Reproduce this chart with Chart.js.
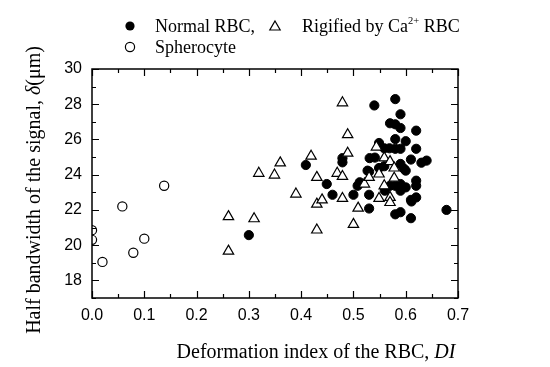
<!DOCTYPE html>
<html>
<head>
<meta charset="utf-8">
<script src="https://cdn.jsdelivr.net/npm/chart.js@4"></script>
<style>
  body { margin: 0; background: #fff; }
  #wrap { width: 550px; height: 367px; }
</style>
</head>
<body>
<div id="wrap"><canvas id="diChart" width="550" height="367"></canvas></div>
<script>
// Normal RBC (filled circles)
const normalX = [0.30, 0.409, 0.449, 0.46, 0.479, 0.479, 0.50, 0.508, 0.53, 0.53,
    0.54, 0.58, 0.59, 0.57, 0.58, 0.59, 0.62, 0.58, 0.60, 0.549,
    0.559, 0.569, 0.58, 0.59, 0.62, 0.531, 0.541, 0.61, 0.63, 0.64,
    0.59, 0.597, 0.53, 0.549, 0.559, 0.58, 0.59, 0.60, 0.62, 0.62,
    0.59, 0.56, 0.57, 0.61, 0.62, 0.58, 0.59, 0.61, 0.678, 0.512,
    0.527, 0.60, 0.611];
const normalY = [20.57, 24.55, 23.47, 22.86, 24.94, 24.7, 22.86, 23.37, 22.86, 22.08,
    27.93, 28.29, 27.43, 26.92, 26.86, 26.65, 26.5, 26.02, 25.9, 25.8,
    25.5, 25.5, 25.47, 25.47, 25.47, 24.94, 24.97, 24.86, 24.68, 24.8,
    24.61, 24.33, 24.17, 24.38, 24.48, 23.37, 23.47, 23.28, 23.66, 23.37,
    23.09, 23.09, 23.37, 22.57, 22.71, 21.75, 21.87, 21.53, 22.0, 23.57,
    24.23, 24.23, 22.48];

// Rigified by Ca2+ RBC (open triangles)
const rigidX = [0.261, 0.261, 0.31, 0.319, 0.349, 0.36, 0.39, 0.419, 0.43, 0.43,
    0.44, 0.43, 0.479, 0.489, 0.489, 0.469, 0.479, 0.479, 0.509, 0.50,
    0.521, 0.53, 0.549, 0.559, 0.57, 0.578, 0.544, 0.559, 0.549, 0.57,
    0.57, 0.578];
const rigidY = [21.62, 19.66, 21.5, 24.08, 23.98, 24.67, 22.9, 25.05, 23.85, 22.33,
    22.57, 20.86, 28.08, 26.27, 25.22, 24.08, 23.9, 22.65, 22.1, 21.18,
    23.47, 23.85, 24.04, 24.95, 24.74, 24.38, 25.57, 23.37, 22.65, 22.71,
    22.42, 23.8];

// Spherocyte (open circles)
const spheroX = [0.0, 0.0, 0.02, 0.058, 0.079, 0.10, 0.138];
const spheroY = [20.85, 20.3, 19.05, 22.2, 19.57, 20.37, 23.37];

const xTicks = [0.0, 0.1, 0.2, 0.3, 0.4, 0.5, 0.6, 0.7];
const yTicks = [18, 20, 22, 24, 26, 28, 30];

function toPoints(xs, ys) {
    return xs.map(function (x, i) { return { x: x, y: ys[i] }; });
}

const SERIF = '"Liberation Serif", "Times New Roman", serif';
const SANS = '"Liberation Sans", Arial, sans-serif';

// draw a row of text pieces with different fonts
function drawRuns(ctx, runs, x, y) {
    runs.forEach(function (r) {
        ctx.font = r.font;
        ctx.fillText(r.text, x, y - (r.rise || 0));
        x += ctx.measureText(r.text).width;
    });
    return x;
}

function runsWidth(ctx, runs) {
    let w = 0;
    runs.forEach(function (r) {
        ctx.font = r.font;
        w += ctx.measureText(r.text).width;
    });
    return w;
}

function triangle(ctx, x, y, r) {
    ctx.beginPath();
    ctx.moveTo(x, y - r);
    ctx.lineTo(x + r * 0.866, y + r * 0.5);
    ctx.lineTo(x - r * 0.866, y + r * 0.5);
    ctx.closePath();
}

// frame with inward ticks on all four sides
const framePlugin = {
    id: 'frame',
    afterDraw: function (chart) {
        const ctx = chart.ctx;
        const a = chart.chartArea;
        const xs = chart.scales.x, ys = chart.scales.y;
        ctx.save();
        ctx.strokeStyle = '#000';
        ctx.lineWidth = 1.5;
        ctx.strokeRect(a.left, a.top, a.right - a.left, a.bottom - a.top);
        ctx.lineWidth = 1.2;
        ctx.beginPath();
        for (let i = 0; i <= 14; i++) {
            const px = Math.round(xs.getPixelForValue(i * 0.05)) + 0.5;
            const len = i % 2 === 0 ? 7 : 4;
            ctx.moveTo(px, a.bottom); ctx.lineTo(px, a.bottom - len);
            ctx.moveTo(px, a.top); ctx.lineTo(px, a.top + len);
        }
        for (let v = 17; v <= 30; v++) {
            const py = Math.round(ys.getPixelForValue(v)) + 0.5;
            const len = v % 2 === 0 ? 7 : 4;
            ctx.moveTo(a.left, py); ctx.lineTo(a.left + len, py);
            ctx.moveTo(a.right, py); ctx.lineTo(a.right - len, py);
        }
        ctx.stroke();
        ctx.restore();
    }
};

// axis titles and the two-line legend
const labelsPlugin = {
    id: 'labels',
    afterDraw: function (chart) {
        const ctx = chart.ctx;
        ctx.save();
        ctx.fillStyle = '#000';
        ctx.textBaseline = 'alphabetic';
        ctx.textAlign = 'left';

        // x title
        const xRuns = [
            { text: 'Deformation index of the RBC, ', font: '20px ' + SERIF },
            { text: 'DI', font: 'italic 20px ' + SERIF }
        ];
        drawRuns(ctx, xRuns, 316 - runsWidth(ctx, xRuns) / 2, 358);

        // y title
        const yRuns = [
            { text: 'Half bandwidth of the signal, ', font: '20px ' + SERIF },
            { text: '\u03b4', font: 'italic 20px ' + SERIF },
            { text: '(\u03bcm)', font: '20px ' + SERIF }
        ];
        ctx.save();
        ctx.translate(40, 190 + runsWidth(ctx, yRuns) / 2);
        ctx.rotate(-Math.PI / 2);
        drawRuns(ctx, yRuns, 0, 0);
        ctx.restore();

        // legend
        const lf = '18px ' + SERIF;
        ctx.lineWidth = 1.2;
        ctx.strokeStyle = '#000';
        ctx.beginPath();
        ctx.arc(130, 26, 4.6, 0, Math.PI * 2);
        ctx.fill();
        drawRuns(ctx, [{ text: 'Normal RBC,', font: lf }], 155, 32);

        triangle(ctx, 275, 27, 6);
        ctx.stroke();
        drawRuns(ctx, [
            { text: 'Rigified by Ca', font: lf },
            { text: '2+', font: '10.5px ' + SERIF, rise: 8 },
            { text: ' RBC', font: lf }
        ], 302, 32);

        ctx.beginPath();
        ctx.arc(130, 47, 4.6, 0, Math.PI * 2);
        ctx.stroke();
        drawRuns(ctx, [{ text: 'Spherocyte', font: lf }], 155, 53);
        ctx.restore();
    }
};

const tickFont = { family: SANS, size: 16 };

new Chart(document.getElementById('diChart'), {
    type: 'scatter',
    data: {
        datasets: [{
            label: 'Normal RBC',
            data: toPoints(normalX, normalY),
            pointStyle: 'circle',
            pointRadius: 4.6,
            pointHoverRadius: 4.6,
            backgroundColor: '#000',
            borderColor: '#000',
            borderWidth: 1,
            clip: 0,
            order: 3
        }, {
            label: 'Rigified by Ca2+ RBC',
            data: toPoints(rigidX, rigidY),
            pointStyle: 'triangle',
            pointRadius: 6,
            pointHoverRadius: 6,
            backgroundColor: '#fff',
            borderColor: '#000',
            borderWidth: 1.2,
            clip: 0,
            order: 2
        }, {
            label: 'Spherocyte',
            data: toPoints(spheroX, spheroY),
            pointStyle: 'circle',
            pointRadius: 4.6,
            pointHoverRadius: 4.6,
            backgroundColor: 'rgba(255,255,255,0)',
            borderColor: '#000',
            borderWidth: 1.2,
            clip: 0,
            order: 1
        }]
    },
    options: {
        responsive: false,
        devicePixelRatio: 1,
        animation: false,
        events: [],
        layout: { padding: { top: 69, right: 92, bottom: 0, left: 0 } },
        plugins: {
            legend: { display: false },
            tooltip: { enabled: false }
        },
        scales: {
            x: {
                type: 'linear',
                min: 0,
                max: 0.7,
                afterBuildTicks: function (s) { s.ticks = xTicks.map(function (v) { return { value: v }; }); },
                afterFit: function (s) { s.height = 69; },
                grid: { display: false, drawTicks: false },
                border: { display: false },
                ticks: {
                    font: tickFont,
                    color: '#000',
                    padding: 8,
                    maxRotation: 0,
                    autoSkip: false,
                    callback: function (v) { return Number(v).toFixed(1); }
                }
            },
            y: {
                type: 'linear',
                min: 17,
                max: 30,
                afterBuildTicks: function (s) { s.ticks = yTicks.map(function (v) { return { value: v }; }); },
                afterFit: function (s) { s.width = 92; },
                grid: { display: false, drawTicks: false },
                border: { display: false },
                ticks: {
                    font: tickFont,
                    color: '#000',
                    padding: 10,
                    autoSkip: false,
                    callback: function (v) { return String(v); }
                }
            }
        }
    },
    plugins: [framePlugin, labelsPlugin]
});
</script>
</body>
</html>
